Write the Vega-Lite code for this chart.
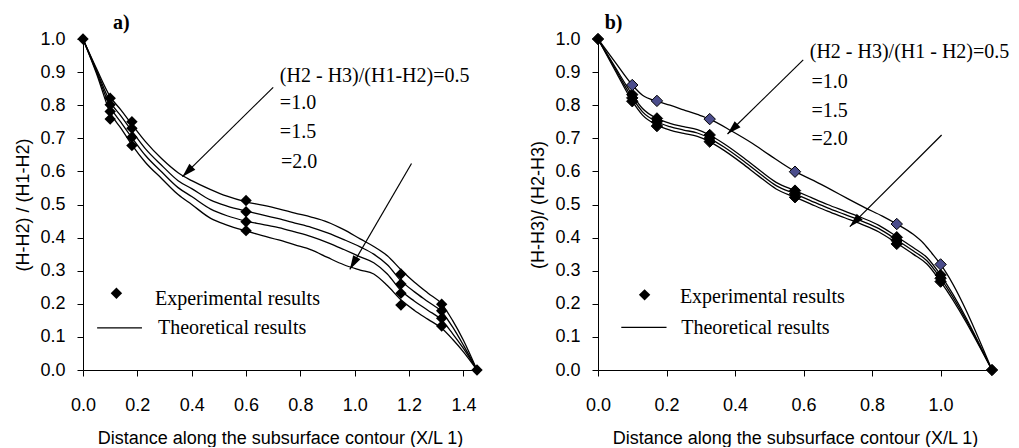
{
"$schema": "https://vega.github.io/schema/vega-lite/v6.json",
"autosize": {"type": "pad"},
"padding": {"left": 14, "top": 13, "right": 0, "bottom": 0},
"bounds": "flush",
"spacing": 121,
"config": {
 "view": {"stroke": null},
 "axis": {"domainColor": "black", "tickColor": "black", "labelColor": "black", "titleColor": "black", "labelFont": "Liberation Sans", "titleFont": "Liberation Sans", "labelFontSize": 18, "titleFontSize": 18, "titleFontWeight": "normal", "grid": false, "tickSize": 6, "domainWidth": 1, "tickWidth": 1, "labelOverlap": false, "labelFlush": false},
 "axisX": {"labelPadding": 20, "titlePadding": 15},
 "axisY": {"labelPadding": 12, "titlePadding": 7}
},
"datasets": {
 "curvesA": [
  {"s":"0.5","x":0,"y":1},{"s":"0.5","x":0.05,"y":0.91},{"s":"0.5","x":0.1,"y":0.826},{"s":"0.5","x":0.14,"y":0.785},{"s":"0.5","x":0.18,"y":0.742},{"s":"0.5","x":0.23,"y":0.69},{"s":"0.5","x":0.29,"y":0.638},{"s":"0.5","x":0.35,"y":0.596},{"s":"0.5","x":0.4,"y":0.572},{"s":"0.5","x":0.47,"y":0.545},{"s":"0.5","x":0.53,"y":0.525},{"s":"0.5","x":0.6,"y":0.508},{"s":"0.5","x":0.66,"y":0.498},{"s":"0.5","x":0.72,"y":0.487},{"s":"0.5","x":0.78,"y":0.474},{"s":"0.5","x":0.84,"y":0.462},{"s":"0.5","x":0.9,"y":0.447},{"s":"0.5","x":0.96,"y":0.424},{"s":"0.5","x":1.02,"y":0.396},{"s":"0.5","x":1.07,"y":0.373},{"s":"0.5","x":1.12,"y":0.345},{"s":"0.5","x":1.17,"y":0.303},{"s":"0.5","x":1.22,"y":0.265},{"s":"0.5","x":1.27,"y":0.232},{"s":"0.5","x":1.32,"y":0.2},{"s":"0.5","x":1.36,"y":0.15},{"s":"0.5","x":1.4,"y":0.09},{"s":"0.5","x":1.45,"y":0},
  {"s":"1.0","x":0,"y":1},{"s":"1.0","x":0.05,"y":0.905},{"s":"1.0","x":0.1,"y":0.81},{"s":"1.0","x":0.14,"y":0.767},{"s":"1.0","x":0.18,"y":0.722},{"s":"1.0","x":0.23,"y":0.668},{"s":"1.0","x":0.29,"y":0.618},{"s":"1.0","x":0.35,"y":0.572},{"s":"1.0","x":0.4,"y":0.548},{"s":"1.0","x":0.47,"y":0.513},{"s":"1.0","x":0.53,"y":0.495},{"s":"1.0","x":0.6,"y":0.48},{"s":"1.0","x":0.66,"y":0.469},{"s":"1.0","x":0.72,"y":0.457},{"s":"1.0","x":0.78,"y":0.444},{"s":"1.0","x":0.84,"y":0.431},{"s":"1.0","x":0.9,"y":0.414},{"s":"1.0","x":0.96,"y":0.394},{"s":"1.0","x":1.02,"y":0.372},{"s":"1.0","x":1.07,"y":0.35},{"s":"1.0","x":1.12,"y":0.318},{"s":"1.0","x":1.17,"y":0.27},{"s":"1.0","x":1.22,"y":0.236},{"s":"1.0","x":1.27,"y":0.206},{"s":"1.0","x":1.32,"y":0.176},{"s":"1.0","x":1.36,"y":0.13},{"s":"1.0","x":1.4,"y":0.075},{"s":"1.0","x":1.45,"y":0},
  {"s":"1.5","x":0,"y":1},{"s":"1.5","x":0.05,"y":0.9},{"s":"1.5","x":0.1,"y":0.795},{"s":"1.5","x":0.14,"y":0.748},{"s":"1.5","x":0.18,"y":0.702},{"s":"1.5","x":0.23,"y":0.648},{"s":"1.5","x":0.29,"y":0.598},{"s":"1.5","x":0.35,"y":0.551},{"s":"1.5","x":0.4,"y":0.524},{"s":"1.5","x":0.47,"y":0.486},{"s":"1.5","x":0.53,"y":0.466},{"s":"1.5","x":0.6,"y":0.45},{"s":"1.5","x":0.66,"y":0.44},{"s":"1.5","x":0.72,"y":0.43},{"s":"1.5","x":0.78,"y":0.417},{"s":"1.5","x":0.84,"y":0.403},{"s":"1.5","x":0.9,"y":0.385},{"s":"1.5","x":0.96,"y":0.364},{"s":"1.5","x":1.02,"y":0.342},{"s":"1.5","x":1.07,"y":0.324},{"s":"1.5","x":1.12,"y":0.29},{"s":"1.5","x":1.17,"y":0.24},{"s":"1.5","x":1.22,"y":0.208},{"s":"1.5","x":1.27,"y":0.18},{"s":"1.5","x":1.32,"y":0.151},{"s":"1.5","x":1.36,"y":0.11},{"s":"1.5","x":1.4,"y":0.065},{"s":"1.5","x":1.45,"y":0},
  {"s":"2.0","x":0,"y":1},{"s":"2.0","x":0.05,"y":0.895},{"s":"2.0","x":0.1,"y":0.778},{"s":"2.0","x":0.14,"y":0.73},{"s":"2.0","x":0.18,"y":0.68},{"s":"2.0","x":0.23,"y":0.627},{"s":"2.0","x":0.29,"y":0.578},{"s":"2.0","x":0.35,"y":0.53},{"s":"2.0","x":0.4,"y":0.5},{"s":"2.0","x":0.47,"y":0.458},{"s":"2.0","x":0.53,"y":0.438},{"s":"2.0","x":0.6,"y":0.42},{"s":"2.0","x":0.66,"y":0.406},{"s":"2.0","x":0.72,"y":0.393},{"s":"2.0","x":0.78,"y":0.378},{"s":"2.0","x":0.84,"y":0.363},{"s":"2.0","x":0.9,"y":0.34},{"s":"2.0","x":0.96,"y":0.318},{"s":"2.0","x":1.02,"y":0.302},{"s":"2.0","x":1.07,"y":0.29},{"s":"2.0","x":1.12,"y":0.255},{"s":"2.0","x":1.17,"y":0.212},{"s":"2.0","x":1.22,"y":0.18},{"s":"2.0","x":1.27,"y":0.153},{"s":"2.0","x":1.32,"y":0.126},{"s":"2.0","x":1.36,"y":0.093},{"s":"2.0","x":1.4,"y":0.055},{"s":"2.0","x":1.45,"y":0}
 ],
 "pointsA": [
  {"s":"0.5","x":0,"y":1},{"s":"0.5","x":0.1,"y":0.821},{"s":"0.5","x":0.18,"y":0.75},{"s":"0.5","x":0.6,"y":0.512},{"s":"0.5","x":1.17,"y":0.29},{"s":"0.5","x":1.32,"y":0.199},{"s":"0.5","x":1.45,"y":0},
  {"s":"1.0","x":0.1,"y":0.801},{"s":"1.0","x":0.18,"y":0.73},{"s":"1.0","x":0.6,"y":0.478},{"s":"1.0","x":1.17,"y":0.26},{"s":"1.0","x":1.32,"y":0.179},
  {"s":"1.5","x":0.1,"y":0.781},{"s":"1.5","x":0.18,"y":0.703},{"s":"1.5","x":0.6,"y":0.448},{"s":"1.5","x":1.17,"y":0.232},{"s":"1.5","x":1.32,"y":0.156},
  {"s":"2.0","x":0.1,"y":0.758},{"s":"2.0","x":0.18,"y":0.678},{"s":"2.0","x":0.6,"y":0.421},{"s":"2.0","x":1.17,"y":0.196},{"s":"2.0","x":1.32,"y":0.133}
 ],
 "arrowsA": [
  {"id":1,"x":0.700,"y":0.854,"x2":0.366,"y2":0.584},
  {"id":2,"x":1.209,"y":0.624,"x2":0.982,"y2":0.304}
 ],
 "textA": [
  {"x":0.7245,"y":0.871,"t":"(H2 - H3)/(H1-H2)=0.5"},
  {"x":0.7245,"y":0.788,"t":"=1.0"},
  {"x":0.7245,"y":0.700,"t":"=1.5"},
  {"x":0.729,"y":0.609,"t":"=2.0"},
  {"x":0.265,"y":0.196,"t":"Experimental results"},
  {"x":0.276,"y":0.109,"t":"Theoretical results"}
 ],
 "panelA": [{"x":0.11,"y":1.03,"t":"a)"}],
 "legPtA": [{"x":0.123,"y":0.232}],
 "legLnA": [{"x":0.052,"x2":0.217,"y":0.127}],
 "curvesB": [
  {"s":"0.5","x":0,"y":1},{"s":"0.5","x":0.05,"y":0.93},{"s":"0.5","x":0.1,"y":0.861},{"s":"0.5","x":0.13,"y":0.83},{"s":"0.5","x":0.172,"y":0.812},{"s":"0.5","x":0.21,"y":0.8},{"s":"0.5","x":0.25,"y":0.786},{"s":"0.5","x":0.29,"y":0.772},{"s":"0.5","x":0.326,"y":0.758},{"s":"0.5","x":0.39,"y":0.722},{"s":"0.5","x":0.45,"y":0.685},{"s":"0.5","x":0.5,"y":0.65},{"s":"0.5","x":0.575,"y":0.6},{"s":"0.5","x":0.63,"y":0.572},{"s":"0.5","x":0.68,"y":0.545},{"s":"0.5","x":0.73,"y":0.517},{"s":"0.5","x":0.78,"y":0.49},{"s":"0.5","x":0.83,"y":0.465},{"s":"0.5","x":0.872,"y":0.441},{"s":"0.5","x":0.92,"y":0.41},{"s":"0.5","x":0.95,"y":0.383},{"s":"0.5","x":0.975,"y":0.352},{"s":"0.5","x":1.0,"y":0.319},{"s":"0.5","x":1.15,"y":0},
  {"s":"1.0","x":0,"y":1},{"s":"1.0","x":0.05,"y":0.915},{"s":"1.0","x":0.1,"y":0.832},{"s":"1.0","x":0.13,"y":0.79},{"s":"1.0","x":0.172,"y":0.76},{"s":"1.0","x":0.21,"y":0.745},{"s":"1.0","x":0.25,"y":0.735},{"s":"1.0","x":0.29,"y":0.726},{"s":"1.0","x":0.326,"y":0.71},{"s":"1.0","x":0.37,"y":0.682},{"s":"1.0","x":0.42,"y":0.645},{"s":"1.0","x":0.47,"y":0.605},{"s":"1.0","x":0.52,"y":0.567},{"s":"1.0","x":0.575,"y":0.542},{"s":"1.0","x":0.62,"y":0.522},{"s":"1.0","x":0.67,"y":0.5},{"s":"1.0","x":0.72,"y":0.48},{"s":"1.0","x":0.77,"y":0.46},{"s":"1.0","x":0.82,"y":0.437},{"s":"1.0","x":0.872,"y":0.403},{"s":"1.0","x":0.92,"y":0.37},{"s":"1.0","x":0.96,"y":0.34},{"s":"1.0","x":1.0,"y":0.287},{"s":"1.0","x":1.15,"y":0},
  {"s":"1.5","x":0,"y":1},{"s":"1.5","x":0.05,"y":0.91},{"s":"1.5","x":0.1,"y":0.822},{"s":"1.5","x":0.13,"y":0.78},{"s":"1.5","x":0.172,"y":0.75},{"s":"1.5","x":0.21,"y":0.735},{"s":"1.5","x":0.25,"y":0.725},{"s":"1.5","x":0.29,"y":0.716},{"s":"1.5","x":0.326,"y":0.7},{"s":"1.5","x":0.37,"y":0.672},{"s":"1.5","x":0.42,"y":0.635},{"s":"1.5","x":0.47,"y":0.595},{"s":"1.5","x":0.52,"y":0.557},{"s":"1.5","x":0.575,"y":0.532},{"s":"1.5","x":0.62,"y":0.512},{"s":"1.5","x":0.67,"y":0.49},{"s":"1.5","x":0.72,"y":0.47},{"s":"1.5","x":0.77,"y":0.45},{"s":"1.5","x":0.82,"y":0.427},{"s":"1.5","x":0.872,"y":0.393},{"s":"1.5","x":0.92,"y":0.36},{"s":"1.5","x":0.96,"y":0.33},{"s":"1.5","x":1.0,"y":0.277},{"s":"1.5","x":1.15,"y":0},
  {"s":"2.0","x":0,"y":1},{"s":"2.0","x":0.05,"y":0.905},{"s":"2.0","x":0.1,"y":0.812},{"s":"2.0","x":0.13,"y":0.77},{"s":"2.0","x":0.172,"y":0.74},{"s":"2.0","x":0.21,"y":0.725},{"s":"2.0","x":0.25,"y":0.715},{"s":"2.0","x":0.29,"y":0.706},{"s":"2.0","x":0.326,"y":0.69},{"s":"2.0","x":0.37,"y":0.662},{"s":"2.0","x":0.42,"y":0.625},{"s":"2.0","x":0.47,"y":0.585},{"s":"2.0","x":0.52,"y":0.547},{"s":"2.0","x":0.575,"y":0.522},{"s":"2.0","x":0.62,"y":0.502},{"s":"2.0","x":0.67,"y":0.48},{"s":"2.0","x":0.72,"y":0.46},{"s":"2.0","x":0.77,"y":0.44},{"s":"2.0","x":0.82,"y":0.417},{"s":"2.0","x":0.872,"y":0.383},{"s":"2.0","x":0.92,"y":0.35},{"s":"2.0","x":0.96,"y":0.32},{"s":"2.0","x":1.0,"y":0.267},{"s":"2.0","x":1.15,"y":0}
 ],
 "pointsB": [
  {"s":"1.0","x":0,"y":1},{"s":"1.0","x":0.1,"y":0.832},{"s":"1.0","x":0.172,"y":0.76},{"s":"1.0","x":0.326,"y":0.71},{"s":"1.0","x":0.575,"y":0.542},{"s":"1.0","x":0.872,"y":0.401},{"s":"1.0","x":1.0,"y":0.287},{"s":"1.0","x":1.15,"y":0},
  {"s":"1.5","x":0.1,"y":0.822},{"s":"1.5","x":0.172,"y":0.75},{"s":"1.5","x":0.326,"y":0.7},{"s":"1.5","x":0.575,"y":0.532},{"s":"1.5","x":0.872,"y":0.391},{"s":"1.5","x":1.0,"y":0.277},
  {"s":"2.0","x":0.1,"y":0.812},{"s":"2.0","x":0.172,"y":0.737},{"s":"2.0","x":0.326,"y":0.69},{"s":"2.0","x":0.575,"y":0.522},{"s":"2.0","x":0.872,"y":0.381},{"s":"2.0","x":1.0,"y":0.267},
  {"s":"0.5","x":0.1,"y":0.861},{"s":"0.5","x":0.172,"y":0.813},{"s":"0.5","x":0.326,"y":0.758},{"s":"0.5","x":0.575,"y":0.599},{"s":"0.5","x":0.872,"y":0.441},{"s":"0.5","x":1.0,"y":0.319}
 ],
 "arrowsB": [
  {"id":1,"x":0.599,"y":0.937,"x2":0.378,"y2":0.713},
  {"id":2,"x":1.003,"y":0.710,"x2":0.735,"y2":0.433}
 ],
 "textB": [
  {"x":0.618,"y":0.944,"t":"(H2 - H3)/(H1 - H2)=0.5"},
  {"x":0.623,"y":0.851,"t":"=1.0"},
  {"x":0.623,"y":0.765,"t":"=1.5"},
  {"x":0.623,"y":0.680,"t":"=2.0"},
  {"x":0.239,"y":0.2015,"t":"Experimental results"},
  {"x":0.243,"y":0.108,"t":"Theoretical results"}
 ],
 "panelB": [{"x":0.0196,"y":1.03,"t":"b)"}],
 "legPtB": [{"x":0.136,"y":0.227}],
 "legLnB": [{"x":0.068,"x2":0.2,"y":0.129}]
},
"hconcat": [
 {
  "width": 394, "height": 331,
  "layer": [
   {"data": {"name": "curvesA"}, "mark": {"type": "line", "color": "black", "strokeWidth": 1.3, "interpolate": "monotone"},
    "encoding": {
     "x": {"field": "x", "type": "quantitative", "scale": {"domain": [0, 1.45], "nice": false, "zero": false}, "axis": {"values": [0,0.2,0.4,0.6,0.8,1,1.2,1.4], "tickCount": 20, "format": ".1f", "labelOverlap": false, "labelFlush": false, "title": "Distance along the subsurface contour (X/L 1)"}},
     "y": {"field": "y", "type": "quantitative", "scale": {"domain": [0, 1], "nice": false}, "axis": {"values": [0,0.1,0.2,0.3,0.4,0.5,0.6,0.7,0.8,0.9,1], "tickCount": 20, "format": ".1f", "labelOverlap": false, "labelFlush": false, "labelBound": false, "title": "(H-H2) / (H1-H2)"}},
     "detail": {"field": "s"}}},
   {"data": {"name": "pointsA"}, "mark": {"type": "point", "shape": "diamond", "filled": true, "color": "black", "size": 130, "opacity": 1},
    "encoding": {"x": {"field": "x", "type": "quantitative"}, "y": {"field": "y", "type": "quantitative"}}},
   {"data": {"name": "arrowsA"}, "mark": {"type": "rule", "color": "black", "strokeWidth": 1.2},
    "encoding": {"x": {"field": "x", "type": "quantitative"}, "y": {"field": "y", "type": "quantitative"}, "x2": {"field": "x2"}, "y2": {"field": "y2"}}},
   {"data": {"name": "arrowsA"}, "transform": [{"filter": "datum.id == 1"}], "mark": {"type": "point", "shape": "M0,0L-0.3,1L0.3,1Z", "filled": true, "color": "black", "size": 784, "angle": 225, "opacity": 1},
    "encoding": {"x": {"field": "x2", "type": "quantitative"}, "y": {"field": "y2", "type": "quantitative"}}},
   {"data": {"name": "arrowsA"}, "transform": [{"filter": "datum.id == 2"}], "mark": {"type": "point", "shape": "M0,0L-0.3,1L0.3,1Z", "filled": true, "color": "black", "size": 784, "angle": 210, "opacity": 1},
    "encoding": {"x": {"field": "x2", "type": "quantitative"}, "y": {"field": "y2", "type": "quantitative"}}},
   {"data": {"name": "textA"}, "mark": {"type": "text", "align": "left", "baseline": "alphabetic", "font": "Liberation Serif", "fontSize": 20, "color": "black"},
    "encoding": {"x": {"field": "x", "type": "quantitative"}, "y": {"field": "y", "type": "quantitative"}, "text": {"field": "t"}}},
   {"data": {"name": "panelA"}, "mark": {"type": "text", "align": "left", "baseline": "alphabetic", "font": "Liberation Serif", "fontSize": 20, "fontWeight": "bold", "color": "black"},
    "encoding": {"x": {"field": "x", "type": "quantitative"}, "y": {"field": "y", "type": "quantitative"}, "text": {"field": "t"}}},
   {"data": {"name": "legPtA"}, "mark": {"type": "point", "shape": "diamond", "filled": true, "color": "black", "size": 130, "opacity": 1},
    "encoding": {"x": {"field": "x", "type": "quantitative"}, "y": {"field": "y", "type": "quantitative"}}},
   {"data": {"name": "legLnA"}, "mark": {"type": "rule", "color": "black", "strokeWidth": 1.2},
    "encoding": {"x": {"field": "x", "type": "quantitative"}, "x2": {"field": "x2"}, "y": {"field": "y", "type": "quantitative"}}}
  ]
 },
 {
  "width": 394, "height": 331,
  "layer": [
   {"data": {"name": "curvesB"}, "mark": {"type": "line", "color": "black", "strokeWidth": 1.3, "interpolate": "monotone"},
    "encoding": {
     "x": {"field": "x", "type": "quantitative", "scale": {"domain": [0, 1.15], "nice": false, "zero": false}, "axis": {"values": [0,0.2,0.4,0.6,0.8,1], "tickCount": 20, "format": ".1f", "labelOverlap": false, "labelFlush": false, "title": "Distance along the subsurface contour (X/L 1)"}},
     "y": {"field": "y", "type": "quantitative", "scale": {"domain": [0, 1], "nice": false}, "axis": {"values": [0,0.1,0.2,0.3,0.4,0.5,0.6,0.7,0.8,0.9,1], "tickCount": 20, "format": ".1f", "labelOverlap": false, "labelFlush": false, "labelBound": false, "title": "(H-H3)/ (H2-H3)"}},
     "detail": {"field": "s"}}},
   {"data": {"name": "pointsB"}, "mark": {"type": "point", "shape": "diamond", "filled": true, "stroke": "black", "strokeWidth": 1, "size": 130, "opacity": 1},
    "encoding": {"x": {"field": "x", "type": "quantitative"}, "y": {"field": "y", "type": "quantitative"},
     "fill": {"field": "s", "type": "nominal", "scale": {"domain": ["0.5","1.0","1.5","2.0"], "range": ["#4b4d8c","black","black","black"]}, "legend": null}}},
   {"data": {"name": "arrowsB"}, "mark": {"type": "rule", "color": "black", "strokeWidth": 1.2},
    "encoding": {"x": {"field": "x", "type": "quantitative"}, "y": {"field": "y", "type": "quantitative"}, "x2": {"field": "x2"}, "y2": {"field": "y2"}}},
   {"data": {"name": "arrowsB"}, "transform": [{"filter": "datum.id == 1"}], "mark": {"type": "point", "shape": "M0,0L-0.3,1L0.3,1Z", "filled": true, "color": "black", "size": 784, "angle": 226, "opacity": 1},
    "encoding": {"x": {"field": "x2", "type": "quantitative"}, "y": {"field": "y2", "type": "quantitative"}}},
   {"data": {"name": "arrowsB"}, "transform": [{"filter": "datum.id == 2"}], "mark": {"type": "point", "shape": "M0,0L-0.3,1L0.3,1Z", "filled": true, "color": "black", "size": 784, "angle": 225, "opacity": 1},
    "encoding": {"x": {"field": "x2", "type": "quantitative"}, "y": {"field": "y2", "type": "quantitative"}}},
   {"data": {"name": "textB"}, "mark": {"type": "text", "align": "left", "baseline": "alphabetic", "font": "Liberation Serif", "fontSize": 20, "color": "black"},
    "encoding": {"x": {"field": "x", "type": "quantitative"}, "y": {"field": "y", "type": "quantitative"}, "text": {"field": "t"}}},
   {"data": {"name": "panelB"}, "mark": {"type": "text", "align": "left", "baseline": "alphabetic", "font": "Liberation Serif", "fontSize": 20, "fontWeight": "bold", "color": "black"},
    "encoding": {"x": {"field": "x", "type": "quantitative"}, "y": {"field": "y", "type": "quantitative"}, "text": {"field": "t"}}},
   {"data": {"name": "legPtB"}, "mark": {"type": "point", "shape": "diamond", "filled": true, "color": "black", "size": 130, "opacity": 1},
    "encoding": {"x": {"field": "x", "type": "quantitative"}, "y": {"field": "y", "type": "quantitative"}}},
   {"data": {"name": "legLnB"}, "mark": {"type": "rule", "color": "black", "strokeWidth": 1.2},
    "encoding": {"x": {"field": "x", "type": "quantitative"}, "x2": {"field": "x2"}, "y": {"field": "y", "type": "quantitative"}}}
  ]
 }
]
}
